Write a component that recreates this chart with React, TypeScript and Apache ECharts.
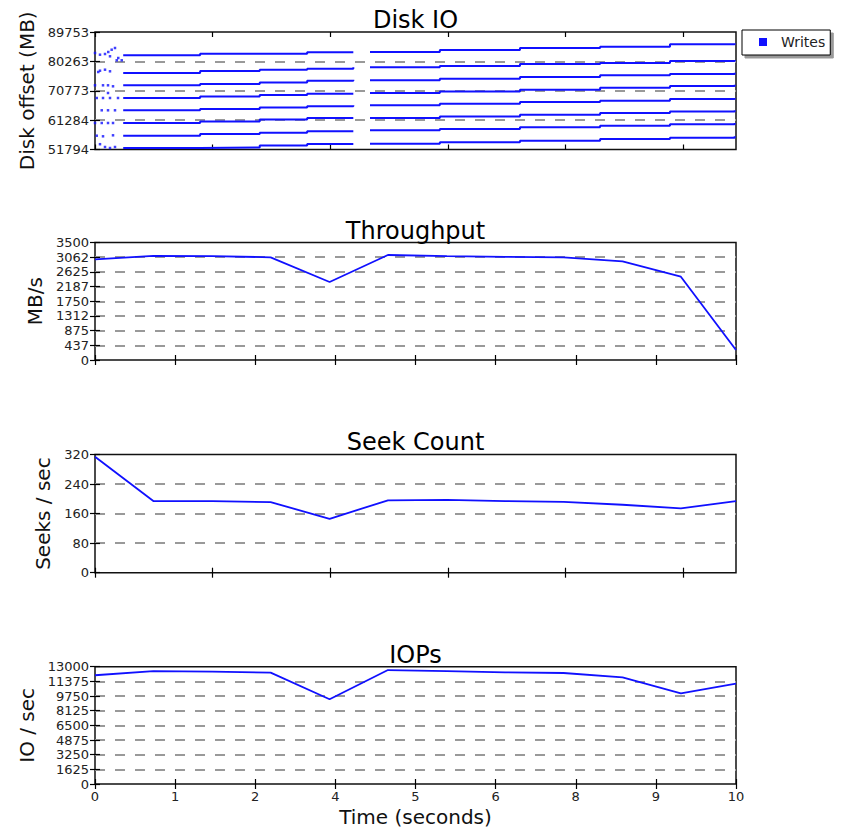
import React, { useEffect, useRef } from 'react';
import * as echarts from 'echarts';

// ---------- data ----------
const sampleTimes = [0, 0.91, 1.83, 2.74, 3.66, 4.57, 5.49, 6.4, 7.31, 8.23, 9.14, 10];
const throughputMBs = [3000, 3100, 3095, 3059, 2323, 3128, 3095, 3073, 3059, 2935, 2482, 298];
const seeksPerSec = [314, 194, 194, 191, 146, 196, 197, 194, 192, 184, 174, 194];
const iopsPerSec = [12050, 12520, 12450, 12340, 9390, 12630, 12520, 12380, 12300, 11820, 10050, 11120];

// Disk IO write bands (8 sequential streams), before and after the short gap
const diskSegATimes = [0.44, 1.64, 2.57, 3.31, 4.03];
const diskSegBTimes = [4.29, 5.38, 6.63, 7.88, 8.97, 9.98];
const bandSegAOffsets = [
  [82226, 82743, 82743, 83195, 83292],
  [76508, 77154, 77574, 77897, 78350],
  [72534, 72954, 73439, 74021, 74343],
  [68432, 68916, 69401, 69821, 70047],
  [64458, 64878, 65363, 65750, 66073],
  [60355, 60840, 61486, 61970, 61970],
  [56252, 56801, 57221, 57674, 57544],
  [52279, 52440, 53086, 53571, 53668],
];
const bandSegBOffsets = [
  [83292, 83938, 84585, 85005, 85780, 86103],
  [78350, 78770, 79416, 79739, 80385, 80708],
  [74150, 74667, 75216, 75765, 76185, 76605],
  [70047, 70531, 71113, 71759, 72308, 72728],
  [66073, 66590, 67139, 67559, 68109, 68432],
  [61970, 62455, 63037, 63586, 64070, 64458],
  [57997, 58417, 58966, 59483, 59935, 60355],
  [53668, 54120, 54637, 55186, 55606, 56058],
];
// scattered writes at the very start
const earlyWrites = [
  [0, 82969], [0.078, 82420], [0.156, 82646], [0.207, 83292], [0.26, 84035], [0.312, 84585],
  [0.363, 81354], [0.417, 80611], [0.339, 80611], [0.234, 81903],
  [0.078, 77251], [0.156, 77574], [0.234, 77057], [0.051, 76831],
  [0, 72534], [0.125, 72534], [0.203, 72534], [0.281, 72211],
  [0.027, 68432], [0.125, 68432], [0.234, 68432], [0.203, 70047], [0.359, 68432],
  [0.105, 64458], [0.203, 64458], [0.312, 64458],
  [0, 60355], [0.105, 60355], [0.203, 60355], [0.281, 60355],
  [0.027, 56252], [0.125, 56058], [0.281, 56381],
  [0.078, 53506], [0.156, 52602], [0.234, 52279], [0.312, 52602],
];

// ---------- ticks ----------
const diskOffsetTicks = [51794, 61284, 70773, 80263, 89753];
const throughputTicks = [0, 437.5, 875, 1312.5, 1750, 2187.5, 2625, 3062.5, 3500];
const throughputTickLabels = ['0', '437', '875', '1312', '1750', '2187', '2625', '3062', '3500'];
const seekTicks = [0, 80, 160, 240, 320];
const iopsTicks = [0, 1625, 3250, 4875, 6500, 8125, 9750, 11375, 13000];
const timeTicks = [0, 1.25, 2.5, 3.75, 5, 6.25, 7.5, 8.75, 10];
const timeTickLabels = ['0', '1', '2', '4', '5', '6', '8', '9', '10'];
const coarseTimeTicks = [0, 1.83, 3.67, 5.51, 7.34, 9.18];

const FONT = 'DejaVu Sans';
const BLUE = '#1010ff';

const labelFrom = (ticks: number[], labels: string[]) => (v: number) => {
  let best = 0;
  ticks.forEach((t, i) => {
    if (Math.abs(t - v) < Math.abs(ticks[best] - v)) best = i;
  });
  return labels[best];
};

const tickStyle = { show: true, inside: true, length: 5, lineStyle: { color: '#000', width: 1.2 } };
const nameStyle = { fontSize: 20, fontFamily: FONT, color: '#111' };

function makeX(grid: number, ticks: number[], labels: string[] | null, name?: string) {
  const bottom: any = {
    type: 'value', gridIndex: grid, min: 0, max: 10, position: 'bottom',
    axisLine: { show: false },
    axisTick: { ...tickStyle, customValues: ticks },
    axisLabel: labels
      ? { show: true, customValues: ticks, formatter: labelFrom(ticks, labels), margin: 6, fontSize: 13, fontFamily: FONT, color: '#222' }
      : { show: false },
    splitLine: { show: false },
  };
  if (name) {
    bottom.name = name;
    bottom.nameLocation = 'middle';
    bottom.nameGap = 23;
    bottom.nameTextStyle = nameStyle;
  }
  const top: any = {
    type: 'value', gridIndex: grid, min: 0, max: 10, position: 'top',
    axisLine: { show: false },
    axisTick: { ...tickStyle, customValues: ticks },
    axisLabel: { show: false },
    splitLine: { show: false },
  };
  return [bottom, top];
}

function makeY(grid: number, ticks: number[], labels: string[], name: string, nameGap: number) {
  const min = ticks[0];
  const max = ticks[ticks.length - 1];
  const left: any = {
    type: 'value', gridIndex: grid, min, max, position: 'left',
    axisLine: { show: false },
    axisTick: { ...tickStyle, customValues: ticks },
    axisLabel: { show: true, customValues: ticks, formatter: labelFrom(ticks, labels), margin: 6, fontSize: 13, fontFamily: FONT, color: '#222' },
    splitLine: {
      show: true, showMinLine: false, showMaxLine: false,
      lineStyle: { color: '#999', width: 1.8, type: [10, 10] },
    },
    name, nameLocation: 'middle', nameGap,
    nameTextStyle: nameStyle,
  };
  const right: any = {
    type: 'value', gridIndex: grid, min, max, position: 'right',
    axisLine: { show: false },
    axisTick: { ...tickStyle, customValues: ticks },
    axisLabel: { show: false },
    splitLine: { show: false },
  };
  return [left, right];
}

export default function App() {
  const ref = useRef<HTMLDivElement>(null);

  useEffect(() => {
    document.body.style.margin = '0';
    if (!ref.current) return;
    const chart = echarts.init(ref.current, undefined, { renderer: 'svg' });

    const grids = [
      { left: 95, top: 32, width: 641, height: 117.5 },
      { left: 95, top: 242.5, width: 641, height: 117.5 },
      { left: 95, top: 454.5, width: 641, height: 118.2 },
      { left: 95, top: 666.7, width: 641, height: 117.3 },
    ].map((g) => ({ ...g, show: true, borderColor: '#111', borderWidth: 1.5, backgroundColor: 'transparent' }));

    const x0 = makeX(0, coarseTimeTicks, null);
    const x1 = makeX(1, timeTicks, null);
    const x2 = makeX(2, coarseTimeTicks, null);
    const x3 = makeX(3, timeTicks, timeTickLabels, 'Time (seconds)');
    const xAxis = [x0[0], x1[0], x2[0], x3[0], x0[1], x1[1], x2[1], x3[1]];

    const y0 = makeY(0, diskOffsetTicks, diskOffsetTicks.map(String), 'Disk offset (MB)', 55);
    const y1 = makeY(1, throughputTicks, throughputTickLabels, 'MB/s', 45);
    const y2 = makeY(2, seekTicks, seekTicks.map(String), 'Seeks / sec', 38);
    const y3 = makeY(3, iopsTicks, iopsTicks.map(String), 'IO / sec', 53);
    const yAxis = [y0[0], y1[0], y2[0], y3[0], y0[1], y1[1], y2[1], y3[1]];

    const bandSeries: any[] = [];
    [
      [diskSegATimes, bandSegAOffsets],
      [diskSegBTimes, bandSegBOffsets],
    ].forEach(([times, bands]: any) => {
      bands.forEach((offs: number[]) => {
        bandSeries.push({
          type: 'line', name: 'Writes', xAxisIndex: 0, yAxisIndex: 0, step: 'end', showSymbol: false,
          lineStyle: { color: BLUE, width: 2 }, itemStyle: { color: BLUE },
          data: times.map((t: number, j: number) => [t, offs[j]]),
        });
      });
    });

    const metricLine = (name: string, idx: number, values: number[]) => ({
      type: 'line', name, xAxisIndex: idx, yAxisIndex: idx, showSymbol: false,
      lineStyle: { color: BLUE, width: 1.8 }, itemStyle: { color: BLUE },
      data: sampleTimes.map((t, j) => [t, values[j]]),
    });

    const titleStyle = { fontSize: 24, fontWeight: 'normal', fontFamily: FONT, color: '#000' };
    const titles = [
      { text: 'Disk IO', top: 8 },
      { text: 'Throughput', top: 219 },
      { text: 'Seek Count', top: 430 },
      { text: 'IOPs', top: 643 },
    ].map((t) => ({ ...t, left: 415.5, textAlign: 'center', padding: 0, textStyle: titleStyle }));

    chart.setOption({
      animation: false,
      backgroundColor: '#fff',
      title: titles,
      legend: {
        show: true,
        data: [{ name: 'Writes', icon: 'rect' }],
        left: 742, top: 30,
        padding: [5, 5, 6, 17],
        itemWidth: 8, itemHeight: 8,
        textStyle: { fontSize: 14, fontFamily: FONT, color: '#222', padding: [0, 0, 0, 9] },
        borderColor: '#000', borderWidth: 1, backgroundColor: '#fff',
        shadowColor: 'rgba(0,0,0,0.4)', shadowOffsetX: 3, shadowOffsetY: 3, shadowBlur: 1,
        selectedMode: false,
      },
      grid: grids,
      xAxis,
      yAxis,
      series: [
        ...bandSeries,
        {
          type: 'scatter', name: 'Writes', xAxisIndex: 0, yAxisIndex: 0,
          symbol: 'rect', symbolSize: 2.5, itemStyle: { color: BLUE },
          data: earlyWrites,
        },
        metricLine('Throughput', 1, throughputMBs),
        metricLine('Seek Count', 2, seeksPerSec),
        metricLine('IOPs', 3, iopsPerSec),
      ],
    });

    return () => chart.dispose();
  }, []);

  return <div ref={ref} style={{ width: 841, height: 830, position: 'absolute', left: 0, top: 0 }} />;
}
